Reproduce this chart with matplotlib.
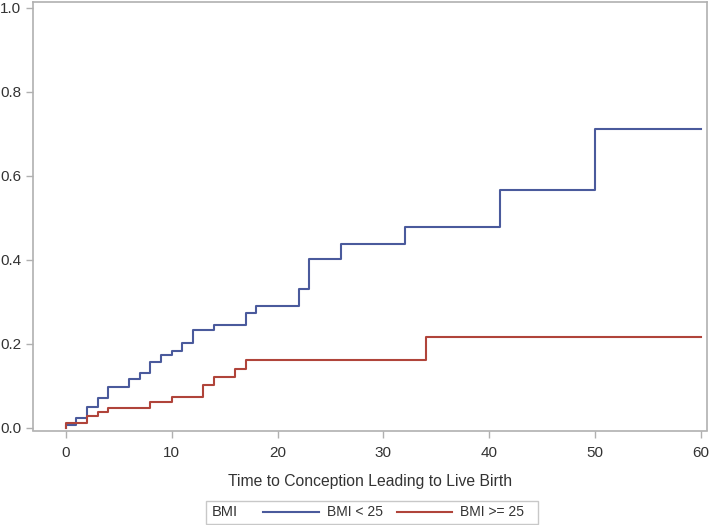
import matplotlib
matplotlib.use("Agg")
import matplotlib.pyplot as plt
from matplotlib.patches import Rectangle

# Data
blue_times = [0, 1, 2, 3, 4, 6, 7, 8, 9, 10, 11, 12, 14, 17, 18, 22, 23, 26, 32, 41, 50]
blue_vals = [0.007, 0.023, 0.049, 0.071, 0.097, 0.116, 0.130, 0.156, 0.174, 0.182, 0.202,
             0.233, 0.245, 0.273, 0.289, 0.330, 0.402, 0.437, 0.479, 0.565, 0.711]
red_times = [0, 2, 3, 4, 8, 10, 13, 14, 16, 17, 34]
red_vals = [0.011, 0.029, 0.039, 0.047, 0.061, 0.073, 0.102, 0.121, 0.140, 0.162, 0.217]
t_end = 60
series_labels = ["BMI < 25", "BMI >= 25"]
legend_title = "BMI"
xlabel = "Time to Conception Leading to Live Birth"
xticks = [0, 10, 20, 30, 40, 50, 60]
yticks = [0.0, 0.2, 0.4, 0.6, 0.8, 1.0]

plt.rcParams['font.family'] = ['Liberation Sans', 'DejaVu Sans']

BLUE = "#4A5A9C"
RED = "#B0443A"
GRAY = "#B0B0B0"
TXT = "#333333"

fig = plt.figure(figsize=(7.09, 5.25), dpi=100)
ax = fig.add_axes([33/709, 1-430.5/525, (706.7-33)/709, (430.5-1.7)/525])

def stepdata(times, vals):
    x = [times[0]] + list(times) + [t_end]
    y = [0.0] + list(vals) + [vals[-1]]
    return x, y

bx, by = stepdata(blue_times, blue_vals)
rx, ry = stepdata(red_times, red_vals)
l1, = ax.step(bx, by, where='post', color=BLUE, lw=1.5)
l2, = ax.step(rx, ry, where='post', color=RED, lw=1.5)

ax.set_xlim(-3.1, 60.55)
ax.set_ylim(-0.006, 1.014)
ax.set_xticks(xticks)
ax.set_xticklabels([str(v) for v in xticks])
ax.set_yticks(yticks)
ax.set_yticklabels([f"{v:.1f}" for v in yticks])
for s in ax.spines.values():
    s.set_color(GRAY)
    s.set_linewidth(1.2)
ax.tick_params(colors=GRAY, labelcolor=TXT, labelsize=11, length=5, width=1)
ax.tick_params(axis='x', pad=6)
ax.set_xlabel(xlabel, fontsize=11.3, color=TXT, labelpad=10)

# Legend with frame
fig.add_artist(Rectangle((206/709, 1-524/525), (538-206)/709, 23/525,
                         transform=fig.transFigure, fill=False, edgecolor="#C8C8C8", lw=1))
fig.text(212/709, 1-512.5/525, legend_title, fontsize=10.5, color=TXT, va='center', ha='left')
fig.legend([l1, l2], series_labels, loc='center left', bbox_to_anchor=(263/709, 1-512.5/525),
           ncol=2, frameon=False, fontsize=10, handlelength=4.0, handletextpad=0.58,
           columnspacing=1.0, borderpad=0, borderaxespad=0, labelcolor=TXT)

fig.savefig("out.png", dpi=100)
